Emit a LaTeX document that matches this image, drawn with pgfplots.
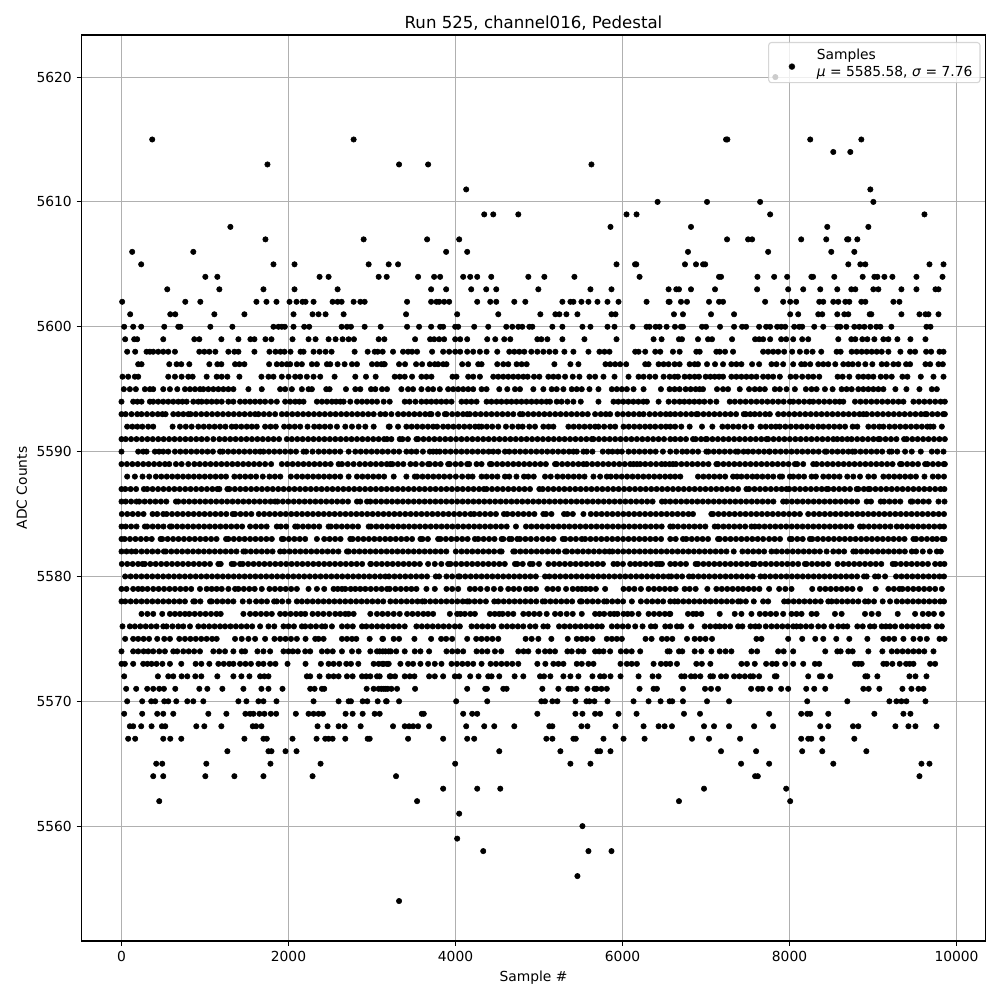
\documentclass[border=0pt]{standalone}
\usepackage{fontspec}
\setmainfont{DejaVu Sans}
\usepackage{pgfplots}
\pgfplotsset{compat=1.18}
\newcommand\lvl[2]{\gdef\tmpc{}\foreach \v in {#2}{\xdef\tmpc{\tmpc (\v,#1)}}\edef\doit{\noexpand\addplot[only marks,mark=*,mark size=1.95pt,black,forget plot] coordinates {\tmpc};}\doit}
\begin{document}
\begin{tikzpicture}
\begin{axis}[name=a,at={(0,0)},anchor=south west,scale only axis,width=9.04in,height=9.06in,
 xmin=-479,xmax=10347,ymin=5550.8,ymax=5623.37,scaled x ticks=false,
 xtick={0,2000,4000,6000,8000,10000},ytick={5560,5570,5580,5590,5600,5610,5620},
 /pgf/number format/assume math mode=true,/pgf/number format/1000 sep={},
 tick align=outside,tick pos=left,major tick length=3.5pt,tick style={black,line width=0.8pt},
 axis line style={line width=0.8pt},grid=major,grid style={color=black!31,line width=0.8pt},
 title={Run 525, channel016, Pedestal},title style={font=\fontsize{12}{14}\selectfont,yshift=-6.5pt},
 xlabel={Sample \#},ylabel={ADC Counts},
 legend style={at={(0.9945,0.9923)},anchor=north east,fill opacity=0.8,draw opacity=0.8,text opacity=1,draw=black!20,rounded corners=2pt,line width=0.8pt,inner sep=2pt,cells={anchor=west}}]
\lvl{5620}{7830}
\lvl{5615}{368,2780,7240,7256,8248,8860}
\lvl{5614}{8524,8728}
\lvl{5613}{1748,3324,3672,5628}
\lvl{5611}{4128,8968}
\lvl{5610}{6420,7012,7648,9004}
\lvl{5609}{4344,4452,4752,6048,6168,7768,9616}
\lvl{5608}{1304,5856,6820,8452,8944}
\lvl{5607}{1724,2900,3660,4044,7252,7504,7552,8140,8440,8690,8705,8812}
\lvl{5606}{128,860,3888,4140,6784,7744,8500,8776}
\lvl{5605}{236,1820,2072,2960,3200,3312,5928,6150,6165,6748,6880,6965,6990,8704,8848,8908,9676,9844}
\lvl{5604}{1004,1148,2372,2480,3080,3176,3552,3744,3816,4092,4176,4260,4428,4872,5064,5424,6204,7156,7180,7616,7816,7972,8262,8282,8536,8876,9016,9052,9136,9232,9520,9832}
\lvl{5603}{548,1172,1700,2072,2588,3708,3888,4188,4368,4488,4992,5616,5868,6552,6644,6676,6820,7108,7612,7984,8164,8368,8572,8740,8788,9004,9064,9340,9520,9748,9784}
\lvl{5602}{8,764,944,1616,1736,1856,2012,2096,2168,2204,2300,2528,2588,2636,2780,2860,2912,3420,3708,3772,3804,3864,3924,4260,4416,4488,4704,4836,5280,5376,5412,5508,5592,5700,5820,5952,6288,6552,6564,6700,6772,7036,7156,7204,7708,7924,8008,8080,8356,8404,8524,8584,8668,8716,8860,8908,9244,9316}
\lvl{5601}{104,584,644,1112,1472,2060,2288,2360,2444,2660,3408,4020,4512,5016,5196,5244,5328,5460,5868,5916,6616,6724,7060,7336,8008,8104,8344,8392,8572,8656,8704,8960,8980,9340,9556,9628,9664,9784}
\lvl{5600}{32,140,236,512,680,705,1064,1328,1820,1880,1920,1956,2060,2188,2248,2636,2700,2748,2912,3104,3420,3564,3708,3816,3852,3996,4032,4224,4392,4608,4680,4752,4800,4884,4920,5160,5280,5520,5616,5820,5904,6120,6288,6324,6396,6444,6528,6628,6700,6724,6952,7000,7168,7336,7432,7480,7636,7720,7768,7852,7900,7948,8056,8116,8152,8296,8404,8572,8608,8680,8776,8836,8896,8968,9040,9088,9220,9640,9688}
\lvl{5599}{44,152,188,500,872,932,1196,1400,1544,1592,1724,1796,2048,2240,2324,2480,2564,2648,2720,2784,3080,3148,3516,3696,3744,3804,3864,3996,4056,4140,4380,4476,4584,4656,4980,5028,5100,5280,5544,5928,6372,6468,6676,6712,6904,7024,7072,7312,7588,7636,7684,7768,7900,7960,8044,8152,8224,8584,8740,8788,8872,8932,9016,9124,9184,9292,9448,9628}
\lvl{5598}{68,164,300,340,380,440,500,560,640,932,992,1052,1124,1280,1352,1400,1592,1772,1844,1904,1952,2024,2144,2180,2300,2372,2444,2516,2792,2948,3032,3068,3128,3252,3372,3432,3480,3540,3720,3852,3924,3996,4056,4140,4212,4292,4372,4500,4644,4704,4764,4824,4908,4980,5052,5124,5196,5304,5412,5592,5724,5784,5844,6152,6192,6272,6392,6452,6604,6684,6884,6924,7124,7164,7228,7324,7684,7744,7804,7864,7936,8032,8124,8204,8276,8380,8564,8612,8744,8804,8864,8924,8984,9044,9104,9184,9328,9444,9504,9636,9696,9796,9844}
\lvl{5597}{200,240,572,660,716,812,1052,1148,1196,1360,1412,1472,1768,1860,1920,1980,2020,2100,2160,2280,2340,2460,2500,2588,2672,2760,2820,3000,3060,3140,3112,3152,3324,3396,3528,3600,3692,3752,3792,3852,3892,4080,4152,4272,4312,4500,4572,4632,4732,4792,4852,5184,5376,5472,5796,5852,5912,5972,6044,6272,6312,6432,6492,6552,6624,6684,6804,6864,6904,7012,7108,7204,7304,7364,7424,7552,7636,7784,7844,7924,8044,8140,8184,8248,8344,8404,8464,8548,8644,8704,8756,8824,8908,8992,9104,9164,9244,9304,9396,9444,9628,9684,9784,9836}
\lvl{5596}{12,80,160,200,560,640,720,800,852,1020,1140,1200,1268,1412,1676,1760,1820,1920,2000,2080,2140,2220,2300,2380,2552,2800,2928,3044,3272,3332,3392,3480,3592,3652,3712,3964,4012,4152,4212,4292,4452,4512,4572,4632,4692,4752,4812,4864,4940,5004,5112,5172,5232,5312,5404,5484,5604,5672,5772,5904,6072,6192,6252,6324,6392,6492,6564,6624,6664,6744,6804,6864,6916,6996,7052,7104,7156,7204,7304,7364,7424,7484,7544,7604,7684,7744,7804,7884,8012,8076,8152,8224,8284,8356,8576,8636,8716,8824,8884,8944,9004,9092,9156,9224,9352,9412,9572,9724,9844}
\lvl{5595}{28,100,172,280,340,380,500,580,668,760,820,880,940,980,1040,1100,1160,1220,1280,1340,1520,1680,1900,1960,2040,2160,2240,2280,2452,2492,2688,2800,2860,2988,3040,3120,3180,3352,3432,3492,3592,3672,3732,3812,3912,3972,4032,4092,4152,4212,4312,4372,4524,4620,4712,4772,4932,5052,5152,5212,5292,5392,5452,5512,5604,5712,5872,5932,5992,6052,6132,6252,6460,6564,6624,6684,6756,6816,6876,6924,6964,7132,7204,7264,7404,7516,7584,7644,7704,7824,7884,7964,8064,8196,8264,8324,8424,8516,8624,8684,8744,8824,8884,8944,9004,9064,9124,9268,9400,9556,9704,9764}
\lvl{5594}{0,140,190,240,340,380,440,500,560,620,680,730,780,860,920,960,1020,1080,1140,1200,1280,1340,1420,1480,1540,1600,1660,1720,1790,1860,1960,2020,2080,2130,2180,2340,2400,2460,2520,2570,2620,2660,2740,2820,2880,2940,3000,3060,3140,3212,3392,3450,3520,3592,3652,3710,3770,3830,3890,3952,4072,4130,4190,4252,4372,4430,4492,4550,4612,4670,4730,4790,4850,4910,4970,5030,5090,5132,5212,5270,5340,5412,5500,5712,5892,5950,6010,6070,6130,6190,6250,6292,6432,6552,6620,6684,6740,6800,6860,6920,6980,7050,7124,7284,7345,7410,7475,7540,7605,7670,7735,7800,7865,7930,8004,8044,8110,8175,8240,8284,8350,8415,8480,8545,8600,8644,8784,8850,8915,8980,9045,9110,9175,9240,9305,9364,9484,9550,9615,9680,9745,9810,9860}
\lvl{5593}{0,50,120,188,240,305,370,435,490,528,620,680,740,800,828,890,955,1020,1085,1150,1215,1280,1345,1410,1475,1540,1600,1640,1705,1770,1840,1920,1980,2045,2110,2175,2240,2305,2370,2435,2500,2565,2630,2695,2760,2825,2890,2955,3020,3100,3160,3232,3312,3377,3442,3507,3572,3637,3692,3712,3790,3872,3892,3960,4025,4090,4140,4172,4237,4302,4367,4432,4497,4562,4627,4692,4772,4804,4869,4934,4999,5064,5129,5194,5259,5324,5389,5454,5519,5584,5672,5740,5800,5852,5940,6005,6070,6135,6200,6252,6324,6389,6454,6519,6572,6630,6695,6760,6825,6884,6904,6970,7035,7100,7165,7230,7295,7360,7452,7476,7530,7584,7644,7710,7764,7864,7929,7994,8059,8124,8189,8254,8319,8384,8449,8514,8579,8644,8709,8774,8839,8884,8924,8989,9054,9119,9184,9249,9314,9379,9444,9509,9574,9624,9644,9709,9774,9839,9860}
\lvl{5592}{68,130,190,250,320,380,612,700,770,840,920,985,1050,1115,1180,1245,1320,1372,1435,1500,1560,1620,1720,1785,1848,1948,2010,2075,2140,2228,2308,2370,2435,2500,2580,2680,2760,2840,2920,3020,3200,3212,3312,3412,3475,3540,3605,3670,3732,3780,3852,3912,3975,4040,4105,4170,4235,4280,4312,4375,4440,4512,4604,4680,4752,4804,4884,4952,5052,5115,5172,5352,5415,5480,5545,5610,5672,5712,5780,5852,5912,6012,6075,6140,6205,6270,6330,6392,6460,6520,6572,6630,6704,6804,6952,7076,7196,7260,7325,7390,7464,7544,7652,7715,7780,7836,7884,7950,8015,8080,8145,8210,8275,8344,8404,8470,8535,8600,8665,8756,8812,8944,9010,9075,9124,9196,9260,9325,9390,9455,9520,9585,9650,9684,9724,9824}
\lvl{5591}{0,50,115,180,245,310,375,440,505,570,635,700,765,830,895,960,1025,1100,1172,1237,1302,1367,1432,1497,1562,1627,1692,1757,1822,1887,1980,2040,2105,2170,2235,2300,2365,2430,2495,2560,2625,2690,2755,2820,2885,2950,3015,3080,3145,3180,3232,3332,3364,3430,3532,3552,3617,3682,3747,3812,3877,3942,4007,4072,4137,4202,4267,4332,4397,4462,4527,4592,4657,4722,4787,4852,4917,4982,5047,5112,5177,5242,5307,5372,5437,5502,5567,5632,5652,5717,5782,5847,5912,5977,6042,6107,6172,6237,6302,6367,6432,6497,6572,6630,6695,6760,6844,6876,6940,6996,7012,7077,7142,7207,7272,7337,7402,7467,7532,7597,7662,7724,7744,7809,7874,7939,8004,8069,8134,8199,8264,8329,8394,8459,8524,8572,8630,8692,8744,8810,8875,8940,9005,9064,9084,9150,9215,9280,9372,9404,9470,9535,9600,9665,9730,9795,9860}
\lvl{5590}{0,200,260,300,400,450,500,560,640,705,770,835,900,965,1030,1095,1180,1212,1277,1342,1407,1472,1537,1602,1660,1700,1765,1830,1895,1960,2025,2090,2180,2212,2288,2360,2425,2490,2555,2620,2720,2800,2865,2930,2995,3060,3125,3190,3260,3325,3412,3472,3532,3610,3692,3732,3772,3812,3877,3942,4007,4072,4137,4202,4267,4332,4397,4452,4512,4592,4644,4709,4774,4839,4904,4969,5034,5099,5164,5229,5294,5359,5412,5452,5532,5572,5640,5764,5830,5880,5940,5992,6072,6137,6202,6267,6332,6397,6484,6572,6644,6716,6772,6840,6905,7004,7028,7093,7158,7223,7288,7356,7384,7450,7504,7564,7630,7695,7756,7764,7829,7894,7959,8024,8089,8154,8219,8284,8349,8424,8444,8510,8575,8640,8705,8756,8784,8850,8915,8980,9045,9110,9196,9224,9290,9384,9464,9572,9704,9770,9844}
\lvl{5589}{0,65,130,195,260,325,390,455,520,572,652,720,800,872,937,1002,1067,1132,1197,1262,1327,1392,1457,1522,1587,1652,1720,1792,1920,1985,2050,2115,2180,2245,2310,2375,2440,2505,2600,2640,2710,2780,2852,2917,2982,3047,3112,3177,3220,3244,3310,3375,3460,3524,3600,3672,3692,3757,3822,3912,3932,4000,4065,4140,4164,4252,4312,4412,4432,4497,4562,4627,4692,4757,4822,4887,4952,5017,5082,5192,5212,5277,5342,5407,5472,5532,5572,5637,5702,5767,5832,5897,5962,6027,6092,6132,6172,6212,6272,6337,6402,6467,6512,6564,6604,6640,6705,6770,6835,6900,6965,7030,7124,7144,7209,7274,7339,7404,7469,7534,7599,7664,7729,7794,7859,7924,7989,8064,8092,8164,8284,8324,8389,8454,8519,8584,8649,8714,8779,8844,8909,8974,9039,9104,9169,9234,9324,9344,9409,9474,9539,9624,9652,9717,9782,9847,9860}
\lvl{5588}{68,160,252,332,412,477,542,607,672,737,802,867,932,997,1062,1127,1192,1252,1352,1417,1482,1547,1612,1692,1772,1837,1902,2028,2100,2165,2230,2295,2360,2425,2490,2555,2620,2720,2820,2885,2950,3015,3080,3145,3260,3412,3512,3540,3605,3670,3735,3800,3865,3932,4004,4080,4152,4204,4312,4372,4437,4502,4592,4644,4730,4820,4872,4937,5072,5140,5220,5285,5350,5415,5480,5545,5652,5732,5812,5860,5925,5990,6055,6120,6185,6250,6315,6380,6445,6510,6572,6630,6692,6904,6969,7034,7099,7164,7229,7324,7372,7424,7490,7556,7612,7676,7741,7806,7884,7912,8004,8044,8109,8174,8264,8316,8404,8469,8534,8599,8692,8764,8844,8944,9012,9124,9189,9254,9319,9384,9449,9514,9616,9716,9781,9850}
\lvl{5587}{0,45,110,175,268,308,373,438,503,568,633,698,763,828,893,958,1023,1088,1148,1172,1268,1292,1357,1422,1487,1552,1617,1682,1747,1812,1877,1942,2007,2072,2137,2202,2267,2332,2397,2462,2527,2592,2657,2722,2787,2852,2917,2982,3047,3112,3177,3242,3307,3372,3437,3502,3567,3632,3697,3762,3827,3892,3957,4022,4087,4152,4217,4282,4340,4372,4437,4502,4567,4632,4697,4762,4827,4892,5004,5044,5109,5174,5239,5304,5369,5434,5499,5564,5629,5694,5759,5824,5889,5954,6019,6084,6149,6214,6279,6344,6409,6474,6539,6604,6669,6734,6799,6864,6929,6994,7059,7124,7189,7254,7319,7384,7484,7516,7581,7646,7711,7776,7841,7906,7964,7996,8061,8126,8191,8256,8321,8386,8444,8464,8529,8594,8659,8724,8804,8824,8890,8944,8964,9029,9094,9159,9224,9289,9354,9419,9484,9549,9614,9679,9744,9809,9855}
\lvl{5586}{0,50,115,180,212,277,342,407,472,537,652,680,745,810,875,940,1005,1070,1135,1200,1265,1330,1395,1460,1525,1590,1655,1720,1785,1840,1868,1933,1998,2063,2128,2193,2258,2323,2388,2453,2518,2583,2648,2713,2820,2860,2940,2980,3045,3110,3175,3240,3305,3370,3435,3500,3565,3630,3695,3760,3825,3890,3955,4020,4085,4150,4215,4280,4345,4410,4475,4540,4605,4670,4735,4800,4865,4930,4995,5060,5125,5190,5255,5320,5385,5450,5515,5580,5645,5710,5775,5840,5905,5970,6035,6100,6165,6230,6295,6360,6472,6512,6572,6637,6702,6767,6832,6897,6962,7027,7092,7157,7222,7287,7352,7417,7482,7547,7612,7677,7742,7807,7924,7964,8029,8094,8159,8224,8289,8354,8419,8484,8549,8614,8679,8744,8809,8924,8976,9092,9132,9197,9262,9327,9452,9472,9537,9602,9667,9784,9856}
\lvl{5585}{4,69,134,199,264,372,428,500,540,605,670,735,800,865,930,995,1060,1125,1190,1255,1332,1360,1425,1490,1555,1644,1708,1773,1838,1903,1968,2033,2098,2163,2228,2293,2358,2423,2488,2553,2618,2683,2748,2813,2878,2943,3008,3073,3138,3203,3268,3333,3398,3463,3528,3593,3658,3723,3788,3853,3918,3983,4048,4113,4180,4224,4289,4354,4419,4484,4580,4620,4685,4750,4815,4880,4945,5052,5084,5149,5300,5340,5405,5532,5620,5685,5750,5815,5880,5945,6010,6075,6140,6205,6270,6335,6400,6465,6530,6595,6660,6725,6790,6844,7064,7084,7149,7214,7279,7344,7409,7474,7539,7604,7669,7734,7799,7864,7929,7994,8059,8124,8224,8292,8357,8422,8487,8552,8617,8682,8747,8812,8877,8942,9007,9072,9137,9202,9267,9332,9397,9462,9527,9592,9657,9722,9787,9850}
\lvl{5584}{0,50,115,180,280,308,373,438,503,580,600,665,730,795,860,925,990,1055,1120,1185,1250,1315,1380,1445,1540,1608,1673,1738,1860,1908,1973,2080,2108,2173,2238,2303,2368,2480,2508,2573,2638,2703,2768,2833,2960,2988,3053,3118,3183,3248,3313,3378,3443,3508,3573,3638,3703,3768,3833,3898,3963,4028,4093,4158,4223,4288,4353,4418,4483,4548,4613,4724,4844,4909,4974,5039,5104,5169,5234,5299,5364,5429,5494,5559,5624,5689,5754,5819,5884,5949,6014,6079,6144,6209,6274,6339,6404,6469,6572,6604,6664,6732,6797,6862,6927,6992,7104,7144,7209,7274,7339,7404,7469,7544,7584,7636,7701,7766,7831,7896,7961,8026,8091,8156,8221,8286,8351,8416,8481,8546,8611,8676,8741,8844,8884,8949,9014,9079,9144,9209,9284,9344,9409,9474,9539,9604,9669,9734,9799,9850}
\lvl{5583}{0,37,102,167,232,297,362,468,488,553,618,683,748,813,878,943,1008,1073,1138,1252,1280,1345,1410,1475,1540,1605,1670,1735,1800,1920,1940,2005,2070,2135,2200,2340,2428,2493,2558,2623,2740,2768,2833,2898,2963,3028,3093,3158,3220,3285,3350,3415,3480,3580,3604,3669,3792,3820,3885,3950,4015,4080,4145,4232,4272,4337,4402,4467,4552,4572,4644,4672,4740,4772,4837,4902,4972,5044,5109,5174,5284,5312,5377,5442,5512,5552,5617,5682,5747,5812,5877,5942,6007,6072,6137,6202,6267,6332,6397,6462,6572,6637,6724,6764,6829,6894,6959,7024,7144,7164,7229,7294,7359,7424,7489,7554,7619,7684,7756,7821,7886,8004,8028,8093,8158,8244,8272,8337,8402,8467,8532,8597,8662,8727,8792,8857,8922,8987,9052,9117,9182,9247,9312,9377,9484,9516,9581,9646,9711,9764,9829,9855}
\lvl{5582}{0,60,120,172,240,305,370,435,508,532,597,662,727,792,857,922,987,1052,1117,1182,1247,1312,1377,1460,1484,1549,1614,1679,1744,1809,1900,1948,2013,2078,2143,2208,2273,2338,2403,2468,2533,2598,2700,2720,2785,2850,2915,2980,3045,3110,3175,3240,3305,3370,3435,3500,3565,3630,3695,3760,3825,3890,4004,4072,4137,4202,4267,4332,4397,4462,4532,4552,4692,4712,4777,4842,4907,4972,5037,5102,5167,5232,5312,5332,5397,5462,5527,5592,5657,5722,5787,5844,5880,5945,6010,6075,6140,6205,6270,6335,6400,6465,6530,6595,6660,6725,6790,6855,6920,6985,7050,7115,7180,7245,7332,7436,7501,7566,7631,7696,7784,7844,7909,7974,8039,8104,8169,8234,8299,8364,8444,8524,8589,8654,8764,8796,8861,8926,8991,9056,9121,9186,9251,9316,9381,9464,9516,9596,9680,9764,9812}
\lvl{5581}{4,69,134,199,252,280,345,410,475,540,605,670,735,800,865,930,995,1060,1160,1188,1320,1348,1420,1452,1517,1582,1647,1712,1777,1842,1907,1972,2037,2102,2167,2232,2297,2362,2427,2492,2557,2622,2687,2752,2817,2882,2980,2988,3053,3118,3183,3248,3313,3378,3443,3508,3573,3672,3752,3830,3912,3940,4005,4070,4135,4200,4265,4330,4395,4460,4525,4590,4712,4740,4805,4892,4924,5000,5112,5180,5245,5310,5375,5440,5505,5570,5635,5700,5765,5892,5940,6005,6092,6152,6212,6277,6342,6407,6472,6444,6572,6630,6695,6760,6876,6904,6969,7034,7099,7164,7229,7294,7359,7424,7489,7556,7584,7649,7714,7779,7844,7909,7974,8039,8104,8184,8204,8269,8334,8399,8464,8576,8644,8709,8774,8839,8904,8969,9034,9099,9236,9268,9333,9398,9463,9528,9593,9658,9744,9804,9855}
\lvl{5580}{44,109,174,239,304,369,434,499,564,629,694,759,824,889,954,1019,1084,1149,1214,1279,1344,1409,1474,1539,1604,1669,1734,1799,1864,1929,1994,2059,2124,2189,2254,2319,2384,2449,2514,2579,2644,2709,2774,2839,2904,2969,3034,3099,3160,3204,3269,3334,3399,3464,3529,3594,3659,3764,3804,3892,3960,4032,4052,4117,4182,4247,4312,4377,4442,4507,4572,4637,4702,4767,4832,4897,4962,5072,5124,5189,5254,5319,5384,5449,5514,5579,5644,5709,5774,5839,5904,5969,6034,6099,6164,6229,6294,6359,6424,6489,6552,6584,6649,6714,6796,6844,6909,6974,7039,7104,7169,7234,7299,7364,7429,7494,7559,7652,7704,7769,7834,7899,7964,8029,8094,8159,8224,8289,8354,8419,8484,8549,8614,8679,8744,8809,8892,8924,9024,9064,9144,9276,9341,9406,9471,9536,9601,9666,9731,9796,9850}
\lvl{5579}{0,60,140,200,250,312,380,445,510,575,640,705,770,835,940,1020,1080,1140,1200,1280,1360,1400,1465,1530,1595,1680,1772,1837,1902,1967,2032,2100,2240,2340,2428,2540,2590,2640,2680,2745,2800,2860,2920,2985,3050,3115,3180,3212,3280,3345,3410,3472,3532,3652,3752,3892,3960,4032,4172,4232,4300,4380,4460,4540,4632,4697,4762,4844,4900,4964,5100,5165,5230,5324,5404,5465,5512,5560,5616,5681,5792,6012,6077,6142,6220,6312,6377,6442,6507,6572,6636,6744,6804,6876,7016,7124,7189,7254,7319,7384,7444,7509,7574,7639,7756,7876,7950,8024,8272,8364,8429,8494,8559,8624,8689,8754,8844,9032,9184,9250,9316,9352,9417,9482,9547,9612,9677,9744,9824}
\lvl{5578}{0,45,110,175,240,305,370,435,500,565,630,695,760,860,880,945,1060,1080,1145,1210,1275,1340,1452,1532,1612,1677,1742,1828,1860,1925,2000,2100,2160,2225,2290,2355,2420,2485,2550,2615,2680,2745,2810,2875,2940,3005,3070,3135,3220,3285,3350,3415,3480,3545,3604,3632,3697,3762,3827,3892,3957,4022,4087,4140,4164,4229,4294,4364,4464,4512,4577,4642,4707,4772,4837,4902,4967,5044,5072,5137,5202,5267,5332,5397,5492,5512,5577,5642,5707,5780,5812,5877,5942,6007,6112,6220,6292,6357,6422,6487,6572,6624,6664,6729,6794,6859,6924,6989,7054,7119,7184,7249,7314,7384,7412,7477,7572,7684,7744,7936,7984,8049,8114,8179,8244,8309,8374,8464,8504,8564,8629,8694,8759,8824,8904,8944,9012,9116,9204,9284,9349,9414,9479,9544,9609,9674,9739,9804,9850}
\lvl{5577}{240,310,380,488,580,640,700,760,812,877,942,1007,1072,1137,1188,1460,1540,1605,1670,1735,1800,1900,1960,2025,2090,2148,2200,2288,2353,2418,2488,2560,2620,2680,2720,2780,2980,3060,3125,3190,3260,3332,3420,3485,3550,3615,3672,3732,3932,4020,4060,4112,4177,4232,4412,4470,4524,4564,4629,4692,4812,4877,4942,5007,5092,5192,5257,5332,5404,5512,5672,5725,5780,5852,5900,5940,6012,6062,6112,6192,6312,6377,6442,6507,6572,6564,6784,6844,6884,6944,7164,7344,7424,7544,7644,7709,7774,7839,7924,8024,8084,8144,8264,8324,8544,8624,8904,8984,9064,9296,9504,9596,9664,9729,9824}
\lvl{5576}{12,100,160,225,290,355,420,500,540,610,680,740,820,920,985,1050,1115,1180,1240,1305,1370,1435,1500,1565,1660,1760,1830,1940,2000,2065,2160,2200,2265,2330,2400,2440,2520,2640,2705,2770,2880,2932,2997,3062,3127,3192,3257,3322,3392,3532,3597,3662,3727,3792,3857,3922,3992,4052,4192,4257,4322,4387,4452,4552,4617,4682,4747,4812,4892,4957,5052,5104,5240,5305,5370,5435,5500,5565,5630,5695,5752,5872,5937,6002,6067,6152,6240,6340,6392,6512,6572,6652,6704,6824,6984,7050,7115,7164,7224,7289,7384,7436,7532,7590,7636,7716,7784,7849,7914,7979,8044,8084,8132,8197,8262,8344,8412,8504,8584,8644,8692,8812,8877,8964,9016,9104,9154,9204,9264,9344,9409,9474,9539,9604,9664,9764,9824}
\lvl{5575}{44,140,200,265,330,428,512,580,692,760,825,890,955,1020,1085,1140,1360,1440,1520,1600,1720,1832,1900,1965,2030,2100,2204,2320,2360,2420,2640,2700,2760,2812,2972,3132,3124,3260,3324,3508,3708,3828,3888,3960,4140,4248,4312,4377,4442,4512,4840,4912,4992,5148,5344,5452,5512,5572,5640,5812,5872,5932,5992,6276,6348,6472,6532,6596,6772,6864,6929,6994,7072,7604,7664,7984,8152,8308,8404,8560,8716,8932,9124,9189,9254,9364,9484,9564,9644,9796,9856}
\lvl{5574}{0,140,200,265,320,380,452,520,620,668,740,805,870,940,1100,1170,1240,1340,1440,1480,1628,1700,1780,1940,2000,2052,2112,2200,2260,2400,2465,2530,2640,2760,2840,2980,3060,3130,3200,3092,3160,3225,3290,3392,3512,3580,3684,3892,3960,4025,4092,4252,4317,4382,4472,4548,4752,4815,4872,4992,5072,5130,5192,5340,5392,5472,5532,5672,5720,5772,5852,5980,6045,6110,6212,6540,6564,6676,6716,6864,6944,7064,7164,7234,7304,7544,7612,7864,7930,8044,8428,8572,8612,8704,8756,8944,9112,9224,9289,9354,9419,9484,9549,9614,9724}
\lvl{5573}{0,40,140,260,310,360,420,490,580,716,888,956,1052,1160,1225,1290,1340,1420,1485,1550,1640,1700,1780,1844,1988,2204,2388,2480,2540,2608,2692,2748,2836,3020,3080,3140,3200,3124,3180,3340,3432,3492,3580,3672,3752,3832,3952,4017,4082,4147,4212,4312,4420,4485,4550,4615,4680,4752,4980,5076,5172,5232,5292,5452,5512,5592,5652,5976,6052,6110,6172,6372,6460,6520,6572,6652,6884,6950,7052,7424,7490,7584,7720,7792,7844,7948,8044,8164,8304,8356,8784,8824,8864,9124,9164,9232,9320,9396,9440,9484,9684,9744}
\lvl{5572}{32,436,560,620,720,788,884,956,1148,1340,1436,1532,1660,1710,1760,2220,2260,2372,2480,2540,2600,2700,2768,2880,2930,2980,3060,3212,3092,3224,3276,3392,3452,3508,3684,3752,3852,3992,4044,4176,4276,4392,4432,4524,4708,4812,5012,5060,5136,5292,5376,5472,5640,5732,5780,5856,5976,6192,6360,6432,6704,6744,6820,6868,6932,7052,7084,7180,7240,7336,7400,7465,7530,7564,7636,7824,7844,8224,8364,8388,8488,8908,8932,9052,9436,9508,9640}
\lvl{5571}{56,176,308,380,452,508,644,932,1028,1208,1460,1676,1760,1928,2260,2312,2400,2428,2936,3020,3080,3140,3188,3112,3164,3232,3300,3516,4140,4356,4376,4572,4612,5040,5232,5352,5388,5448,5580,5664,5688,5748,5812,6204,6372,6412,6724,6988,7060,7144,7540,7624,7672,7768,7900,7984,8200,8296,8428,8884,8948,9076,9352,9460,9544,9604}
\lvl{5570}{68,248,356,404,512,560,656,788,860,980,1400,1496,1640,1700,1856,2300,2600,2720,2748,2888,2944,3068,3176,3168,3324,4008,4380,5028,5072,5160,5220,5436,5568,5604,5664,5820,6132,6312,6456,6564,6596,6724,7012,7276,8212,8692,9196,9280,9340,9400,9628}
\lvl{5569}{32,248,428,500,620,1040,1256,1484,1540,1580,1652,1712,1788,1852,2088,2240,2300,2360,2412,2684,2768,2888,3032,3092,3596,3620,4092,4200,4260,4980,5436,5520,5672,5732,5952,6168,6736,6928,7756,8140,8212,8248,8464,9016,9364,9448}
\lvl{5568}{100,140,236,360,484,524,896,992,1196,1572,1612,1676,2348,2468,2600,2672,2864,3252,3392,3444,3492,3552,3684,4128,4344,4464,4704,5124,5160,5508,5580,5916,6252,6432,6504,6592,6976,7096,7276,7576,7804,8368,8464,8760,8824,9268,9424,9508,9760}
\lvl{5567}{80,164,500,584,716,1472,1700,1740,2048,2336,2440,2480,2528,2680,2948,2972,3432,3852,4140,4224,5088,5160,5412,5440,5772,6012,6264,6832,7036,7408,8140,8224,8260,8392,8776}
\lvl{5566}{1268,1760,1796,1964,2096,4524,5256,5700,5732,5856,7180,7600,8152,8392,8920}
\lvl{5565}{416,488,1016,1784,2384,3996,5376,5616,7420,7756,8524,9580,9676}
\lvl{5564}{380,500,1004,1352,1700,2288,3288,7588,7620,9556}
\lvl{5563}{3852,4260,4536,6976,7960}
\lvl{5562}{452,3540,6676,8008}
\lvl{5561}{4044}
\lvl{5560}{5520}
\lvl{5559}{4020}
\lvl{5558}{4332,5592,5868}
\lvl{5556}{5460}
\lvl{5554}{3324}
\addlegendimage{legend image code/.code={\path (-14.4pt,0) (15.6pt,0);\fill[black,fill opacity=1] (0pt,-2.9pt) circle (1.95pt);}}
\addlegendentry{\begin{tabular}{@{}l@{\hspace{1.5pt}}}Samples\\\textit{μ} = 5585.58, \textit{σ} = 7.76\\[10pt]\end{tabular}}
\end{axis}
\path[use as bounding box] (-0.815in,-0.59in) rectangle (9.185in,9.41in);
\end{tikzpicture}
\end{document}
